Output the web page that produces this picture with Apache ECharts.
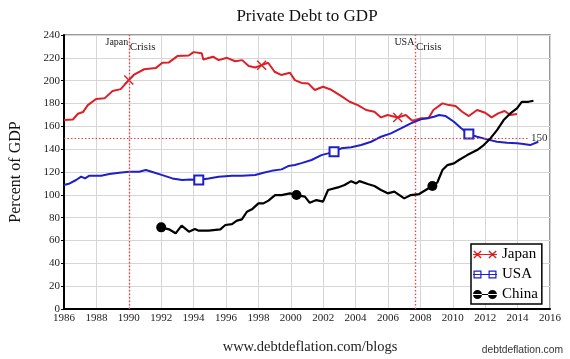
<!DOCTYPE html>
<html><head><meta charset="utf-8">
<script src="https://cdn.jsdelivr.net/npm/echarts/dist/echarts.min.js"></script>
<style>html,body{margin:0;padding:0;background:#fff}#c{width:570px;height:359px}</style>
</head><body><div id="c"></div>
<script>
// ---- data ----
const japanYears = [1986.0,1986.55,1986.86,1987.17,1987.47,1987.98,1988.5,1989.0,1989.5,1990.0,1990.3,1990.95,1991.66,1992.07,1992.48,1993.0,1993.7,1994.0,1994.5,1994.6,1995.2,1995.55,1996.06,1996.57,1997.0,1997.4,1997.8,1998.2,1998.6,1999.0,1999.4,1999.95,2000.25,2000.66,2001.07,2001.48,2001.99,2002.5,2003.12,2003.63,2004.14,2004.65,2005.16,2005.57,2005.98,2006.6,2007.1,2007.5,2008.0,2008.5,2008.8,2009.36,2009.76,2010.17,2010.58,2010.99,2011.5,2012.0,2012.4,2012.8,2013.2,2013.55,2013.96];
const japanValues = [165.5,166,171,172.5,178.6,184,184.5,191,192.6,200.5,205,210,211,215.7,216,221.5,222,225,224,218.6,221,218,220,217,218,212.8,211.5,213.6,215.7,207.8,205,207,200.5,198,197.6,191.8,194.7,192,186.5,181.5,178.6,174.3,172.8,167.8,169.9,167.8,169.9,164.9,167,167,174.3,180.1,178.6,177.8,172.8,169,174.3,171.9,167.8,171.3,173.4,169.9,170.8];
const japanMarkYears = [1990.0, 1998.2, 2006.6];

const usaYears = [1986.0,1986.35,1986.75,1987.06,1987.3,1987.57,1988.29,1988.8,1989.41,1990.03,1990.64,1991.05,1991.46,1992.07,1992.69,1993.3,1993.81,1994.32,1994.93,1995.55,1996.37,1996.98,1997.8,1998.31,1998.82,1999.43,1999.84,2000.25,2000.66,2001.28,2001.89,2002.3,2002.67,2003.12,2003.73,2004.34,2004.96,2005.57,2006.18,2006.8,2007.41,2008.03,2008.43,2008.84,2009.15,2009.56,2010.07,2010.48,2010.99,2011.5,2012.12,2012.73,2013.34,2013.96,2014.36,2014.77,2015.28];
const usaValues = [108.6,110,113,115.9,114.4,116.8,116.8,118.2,119.4,120.3,120.3,121.7,120,117.3,114.4,113,113.5,113,114.4,115.9,116.8,116.8,117.3,119.4,121,122.3,125.2,126.1,127.8,130.5,134.8,136.3,137.8,140.7,141.6,143.6,146.5,150.9,153.8,158.2,162.6,166.1,167,168.4,169.9,169,164,158.8,153.2,150.9,148.6,146.5,145.6,145.1,144.5,143.6,146.5];
const usaMarkYears = [1994.32, 2002.67, 2010.99];

const chinaYears = [1992.0,1992.48,1992.89,1993.26,1993.71,1994.08,1994.32,1994.93,1995.65,1995.96,1996.37,1996.67,1996.98,1997.29,1997.6,1998.0,1998.31,1998.62,1999.03,1999.43,1999.95,2000.35,2000.87,2001.17,2001.58,2001.99,2002.3,2002.91,2003.32,2003.73,2004.04,2004.24,2004.75,2005.16,2005.57,2005.98,2006.39,2007.0,2007.41,2007.92,2008.33,2008.74,2009.05,2009.36,2009.66,2010.07,2010.38,2010.89,2011.5,2011.91,2012.32,2012.73,2013.14,2013.55,2013.96,2014.26,2014.67,2014.98];
const chinaValues = [71.5,69.8,66.3,73,67.7,70,68.6,68.6,69.8,73.6,74.4,77.4,78.5,85.2,87.3,92.5,92.5,94.9,99.8,99.8,101.3,99.8,98.4,93,95.4,94,104.2,106.5,108.6,112,110,112,109.5,107.7,104.2,101.3,102.8,96.9,99.8,100.7,104.2,107.7,111,121.7,126,127.6,130.5,134.8,139.2,143.6,149.4,156.7,165.5,171.3,175.7,181.5,181.5,182.4];
const chinaMarkYears = [1992.0, 2000.35, 2008.74];

const seriesNames = ['Japan', 'USA', 'China'];
const crisisYears = [1990.0, 2007.66];
const crisisLabels = ['Japan', 'USA'];
const refLevel = 150;
const refLevelEnd = 2014.7;
const xMin = 1986, xMax = 2016, xStep = 2;
const yMin = 0, yMax = 240, yStep = 20;

// ---- styling ----
const SERIF = "'Liberation Serif','Times New Roman',serif";
const RED = '#dd1f26', BLUE = '#1f1fc8', BLACK = '#000000';
const DOT = { color: '#e03c3c', type: [1.5, 2], width: 1, opacity: 1 };
const VDOT = { color: '#e84a4a', type: [1.5, 2], width: 1.4, opacity: 1 };
const X_PATH = 'path://M0,1L1,0L5,4L9,0L10,1L6,5L10,9L9,10L5,6L1,10L0,9L4,5Z';

function build(years, values, marks, sym) {
  return years.map((y, i) => marks.includes(y)
    ? Object.assign({ value: [y, values[i]] }, sym)
    : [y, values[i]]);
}

// legend icon paths (24 x 9 box)
function lineBar() { return 'M0,4L24,4L24,5L0,5Z'; }
function xMark(cx) {
  const h = 3.6, d = 0.5, cy = 4.5;
  const p = (a) => a.map(q => q[0].toFixed(2) + ',' + q[1].toFixed(2));
  const r1 = p([[cx-h+d,cy-h-d],[cx+h+d,cy+h-d],[cx+h-d,cy+h+d],[cx-h-d,cy-h+d]]);
  const r2 = p([[cx+h-d,cy-h-d],[cx+h+d,cy-h+d],[cx-h+d,cy+h+d],[cx-h-d,cy+h-d]]);
  return 'M' + r1.join('L') + 'Z' + 'M' + r2.join('L') + 'Z';
}
function sqMark(cx) {
  return 'M' + (cx-4) + ',0.5L' + (cx+4) + ',0.5L' + (cx+4) + ',8.5L' + (cx-4) + ',8.5Z' +
         'M' + (cx-2.8) + ',1.7L' + (cx-2.8) + ',7.3L' + (cx+2.8) + ',7.3L' + (cx+2.8) + ',1.7Z';
}
function ciMark(cx) {
  return 'M' + (cx-4.5) + ',4.5a4.5,4.5 0 1,0 9,0a4.5,4.5 0 1,0 -9,0Z';
}
const iconJapan = 'path://' + lineBar() + xMark(4.5) + xMark(19.5);
const iconUSA = 'path://' + lineBar() + sqMark(4.5) + sqMark(19.5);
const iconChina = 'path://' + lineBar() + ciMark(4.5) + ciMark(19.5);

const chart = echarts.init(document.getElementById('c'), null, { renderer: 'canvas' });

const lbl150 = { show: true, position: 'end', distance: 2, formatter: String(refLevel), fontFamily: SERIF, fontSize: 11, color: '#333' };
const noLbl = { show: false };

const option = {
  animation: false,
  backgroundColor: '#ffffff',
  grid: { left: 61, right: 20, top: 35, bottom: 50, show: true, borderColor: '#7a7a7a', borderWidth: 1.5, backgroundColor: 'transparent' },
  xAxis: {
    type: 'value', min: xMin, max: xMax, interval: xStep,
    axisLine: { show: true, onZero: false, lineStyle: { color: '#000', width: 2 } },
    axisTick: { show: false },
    axisLabel: { margin: 4, fontFamily: SERIF, fontSize: 11, color: '#222', formatter: v => String(v) },
    splitLine: { show: true, lineStyle: { color: '#d6d6d6', width: 1 } }
  },
  yAxis: {
    type: 'value', min: yMin, max: yMax, interval: yStep,
    name: 'Percent of GDP', nameLocation: 'middle', nameGap: 40, nameRotate: 90,
    nameTextStyle: { fontFamily: SERIF, fontSize: 16, color: '#111' },
    axisLine: { show: true, onZero: false, lineStyle: { color: '#000', width: 2 } },
    axisTick: { show: true, length: 3, lineStyle: { color: '#000', width: 1 } },
    axisLabel: { margin: 4, fontFamily: SERIF, fontSize: 11, color: '#222' },
    splitLine: { show: true, lineStyle: { color: '#d6d6d6', width: 1 } }
  },
  legend: {
    orient: 'vertical', left: 471, top: 244,
    padding: [3, 4, 2, 2], itemGap: 5, itemWidth: 24, itemHeight: 9,
    backgroundColor: '#fff', borderColor: '#000', borderWidth: 1.5, borderRadius: 0,
    textStyle: { fontFamily: SERIF, fontSize: 15, color: '#000', lineHeight: 15 },
    data: [
      { name: seriesNames[0], icon: iconJapan, itemStyle: { color: RED, borderWidth: 0 } },
      { name: seriesNames[1], icon: iconUSA, itemStyle: { color: BLUE, borderWidth: 0 } },
      { name: seriesNames[2], icon: iconChina, itemStyle: { color: BLACK, borderWidth: 0 } }
    ]
  },
  series: [
    {
      name: seriesNames[0], type: 'line', symbol: 'none', z: 3,
      lineStyle: { color: RED, width: 2 }, itemStyle: { color: RED },
      data: build(japanYears, japanValues, japanMarkYears, { symbol: X_PATH, symbolSize: 10 }),
      markLine: {
        silent: true, symbol: 'none', animation: false,
        lineStyle: DOT,
        label: noLbl,
        data: [
          [ { coord: [crisisYears[0], yMin], lineStyle: VDOT, label: noLbl }, { coord: [crisisYears[0], yMax], lineStyle: VDOT, label: noLbl } ],
          [ { coord: [crisisYears[1], yMin], lineStyle: VDOT, label: noLbl }, { coord: [crisisYears[1], yMax], lineStyle: VDOT, label: noLbl } ],
          [ { coord: [xMin, refLevel], lineStyle: DOT, label: lbl150 }, { coord: [refLevelEnd, refLevel], lineStyle: DOT, label: lbl150 } ]
        ]
      }
    },
    {
      name: seriesNames[1], type: 'line', symbol: 'none', z: 4,
      lineStyle: { color: BLUE, width: 2 }, itemStyle: { color: BLUE, borderColor: BLUE, borderWidth: 1.5 },
      data: build(usaYears, usaValues, usaMarkYears, { symbol: 'emptyRect', symbolSize: 9 })
    },
    {
      name: seriesNames[2], type: 'line', symbol: 'none', z: 5,
      lineStyle: { color: BLACK, width: 2.2 }, itemStyle: { color: BLACK },
      data: build(chinaYears, chinaValues, chinaMarkYears, { symbol: 'circle', symbolSize: 10 })
    }
  ]
};
chart.setOption(option);

// text annotations placed with the chart's own scales
const g = [];
crisisYears.forEach((yr, i) => {
  const p = chart.convertToPixel({ gridIndex: 0 }, [yr, yMax]);
  g.push({ type: 'text', x: p[0] - 0.5, y: p[1] + 2, style: { text: crisisLabels[i], font: '10px ' + SERIF, fill: '#222', align: 'right', verticalAlign: 'top' } });
  g.push({ type: 'text', x: p[0] + 1, y: p[1] + 7, style: { text: 'Crisis', font: '11px ' + SERIF, fill: '#222', align: 'left', verticalAlign: 'top' } });
});
const gl = chart.convertToPixel({ gridIndex: 0 }, [xMin, yMax]);
const gr = chart.convertToPixel({ gridIndex: 0 }, [xMax, yMax]);
const cx = (gl[0] + gr[0]) / 2;
g.push({ type: 'text', x: cx, y: 17, style: { text: 'Private Debt to GDP', font: '17px ' + SERIF, fill: '#111', align: 'center', verticalAlign: 'middle' } });
g.push({ type: 'text', x: cx + 3, y: 347, style: { text: 'www.debtdeflation.com/blogs', font: '14.5px ' + SERIF, fill: '#222', align: 'center', verticalAlign: 'middle' } });
g.push({ type: 'text', x: 563, y: 350, style: { text: 'debtdeflation.com', font: "10.3px 'Liberation Sans', Arial, sans-serif", fill: '#333', align: 'right', verticalAlign: 'middle' } });
chart.setOption({ graphic: g });
</script></body></html>
